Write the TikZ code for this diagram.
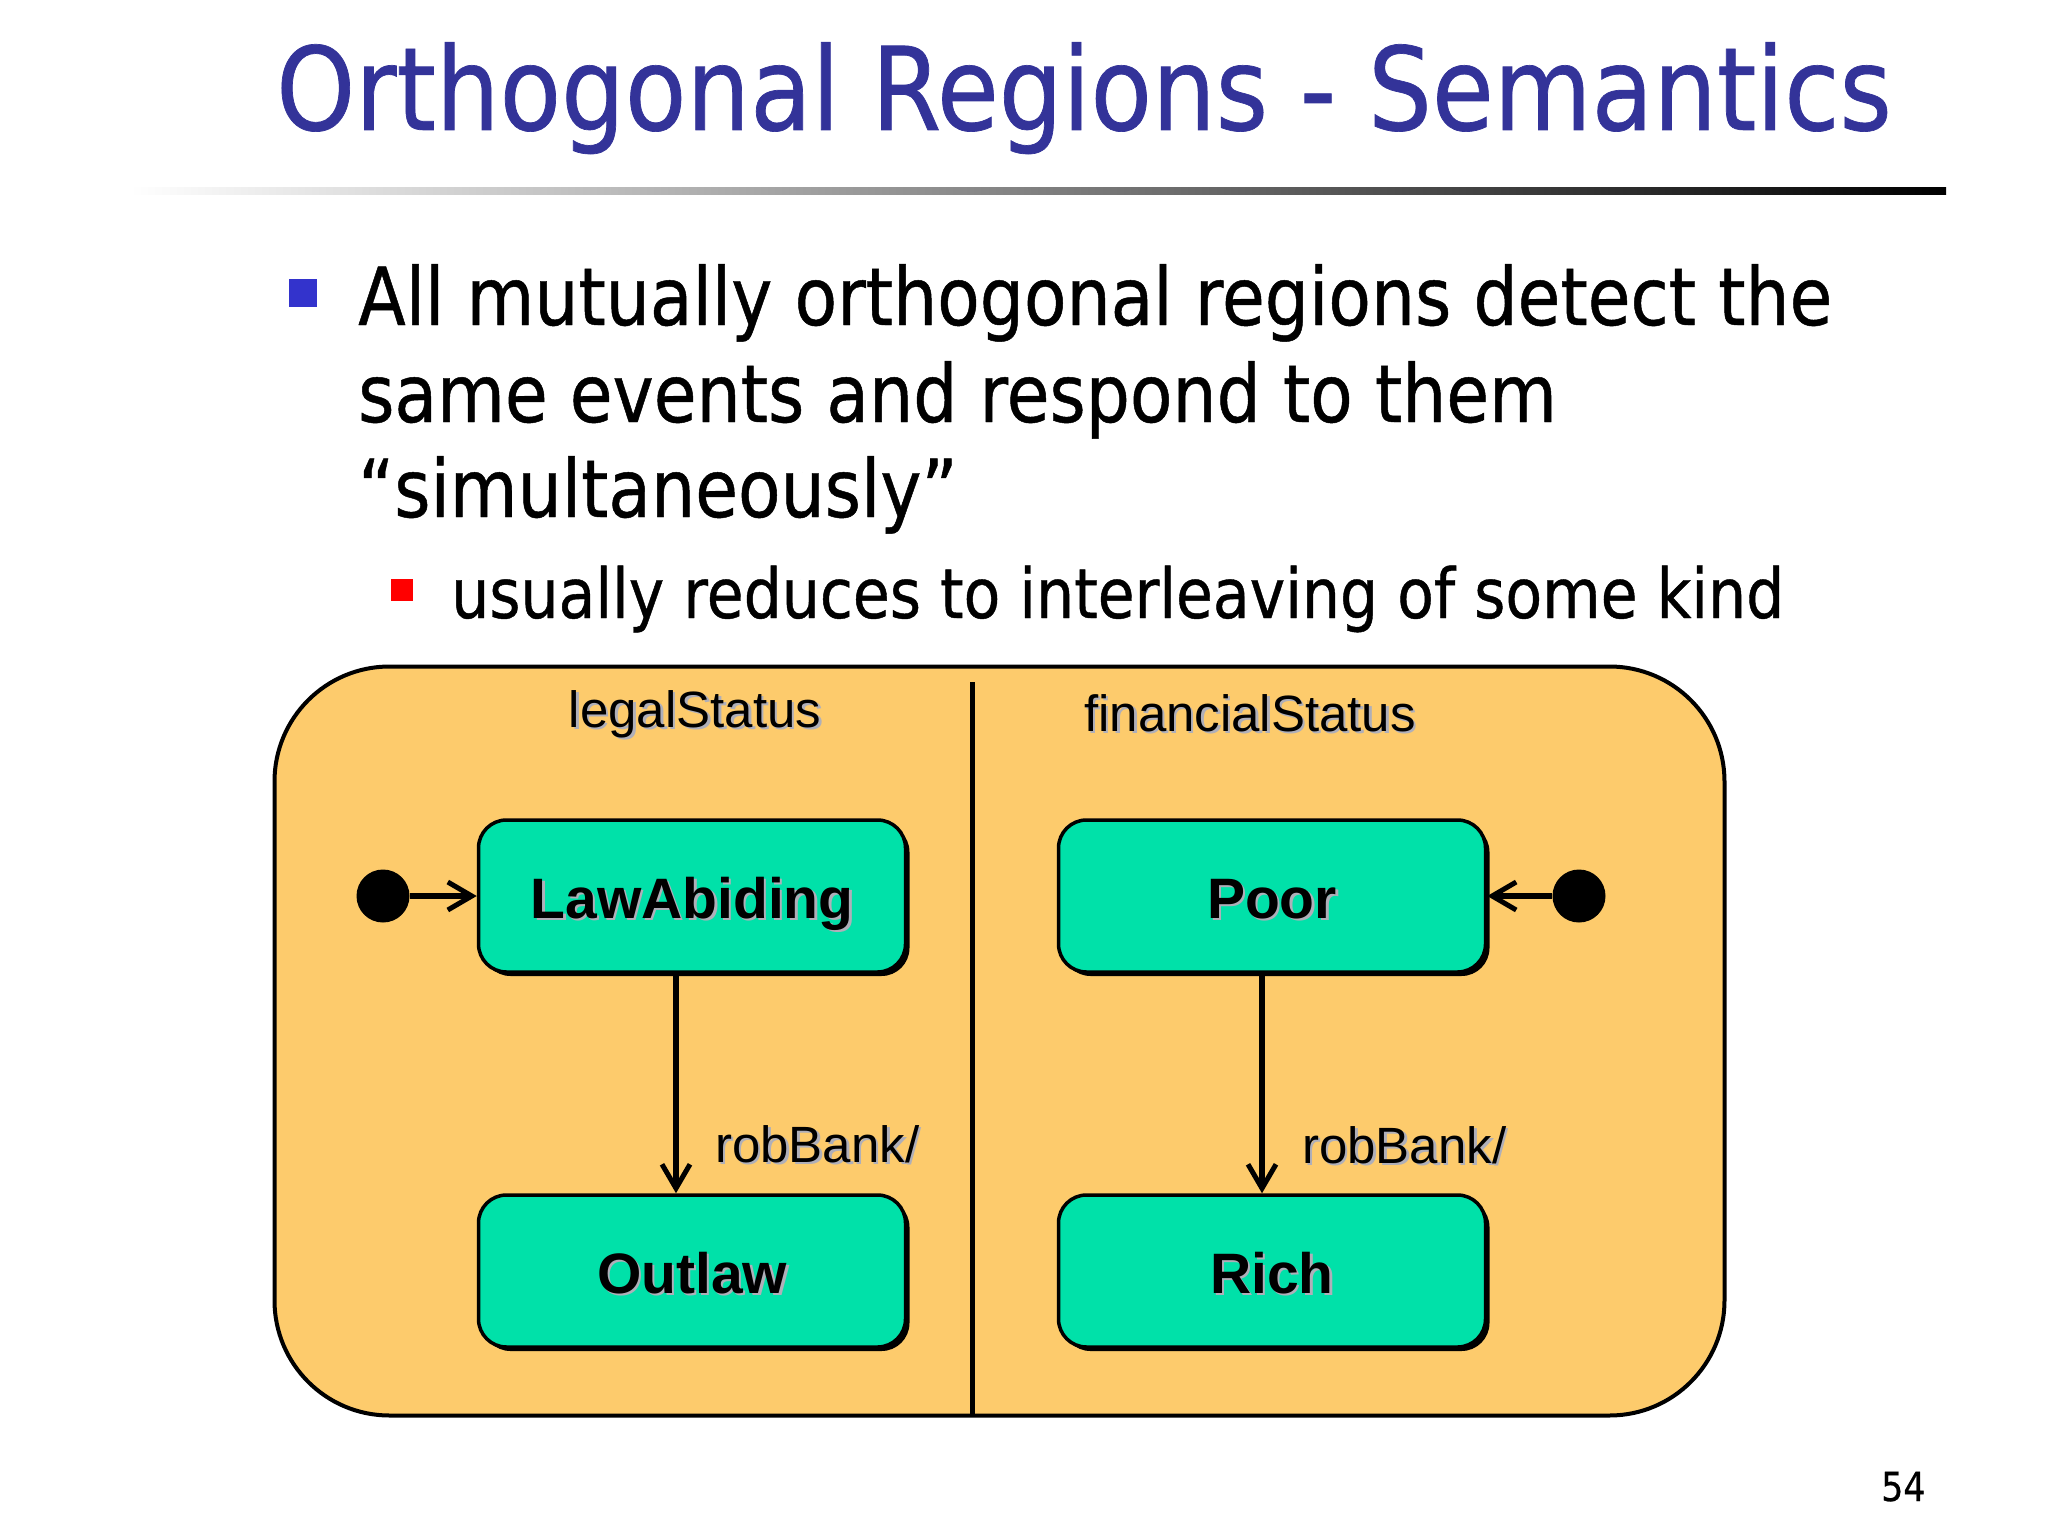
\documentclass[tikz,border=0pt]{standalone}
\usepackage{fontspec}
\setmainfont[FakeStretch=0.87,FakeBold=0.6]{DejaVu Sans}
\newfontfamily\arialf{Liberation Sans}
\usetikzlibrary{arrows.meta,shadows}
\definecolor{titleblue}{RGB}{51,51,153}
\definecolor{bulletblue}{RGB}{51,51,204}
\definecolor{bulletred}{RGB}{255,0,0}
\definecolor{regionorange}{RGB}{253,203,108}
\definecolor{stategreen}{RGB}{0,225,169}
\definecolor{txtshadow}{RGB}{175,175,185}
\newcommand\shadowed[1]{\makebox[0pt][l]{\hspace{2.5pt}\raisebox{-2.5pt}{\textcolor{txtshadow}{#1}}}#1}
\begin{document}
\begin{tikzpicture}[x=1pt,y=-1pt,
  txt/.style={inner sep=0pt, anchor=base west},
  statebox/.style={draw=black, line width=3.5pt, fill=stategreen, rounded corners=28pt,
    minimum width=427pt, minimum height=152pt, text height=44pt, text depth=0pt,
    drop shadow={shadow xshift=4pt, shadow yshift=-4pt, fill=black, opacity=1},
    font=\arialf\bfseries\fontsize{57}{60}\selectfont},
  initdot/.style={circle, fill=black, minimum size=53pt, inner sep=0pt},
  trans/.style={line width=6pt, -{Straight Barb[length=24pt,width=28pt,line width=5pt]}},
  lbl/.style={inner sep=0pt, font=\arialf\fontsize{51}{54}\selectfont}]
\useasboundingbox (0,0) rectangle (2048,1536);
\fill[white] (0,0) rectangle (2048,1536);
% title
\node[txt, text=titleblue, font=\fontsize{115.5}{120}\selectfont] (title) at (276,130) {Orthogonal Regions - Semantics};
\shade[left color=white, right color=black] (130,187) rectangle (1946,194);
% bullets
\node[fill=bulletblue, minimum size=28pt, inner sep=0pt] (b1) at (303,293) {};
\node[txt, font=\fontsize{80}{84}\selectfont] (l1) at (358,325) {All mutually orthogonal regions detect the};
\node[txt, font=\fontsize{80}{84}\selectfont] (l2) at (358,422) {same events and respond to them};
\node[txt, font=\fontsize{80}{84}\selectfont] (l3) at (358,517) {“simultaneously”};
\node[fill=bulletred, minimum size=22pt, inner sep=0pt] (b2) at (402,590) {};
\node[txt, font=\fontsize{69}{72}\selectfont] (l4) at (451,618) {usually reduces to interleaving of some kind};
% diagram
\node[draw=black, line width=4pt, fill=regionorange, rounded corners=115pt,
  minimum width=1450pt, minimum height=749pt, inner sep=0pt] (region) at (999.5,1041) {};
\draw[line width=5pt] (972,682) -- (972,1416);
\node[lbl, anchor=base] (ls) at (695,727) {\shadowed{legalStatus}};
\node[lbl, anchor=base] (fs) at (1250,731) {\shadowed{financialStatus}};
\node[statebox] (law) at (692,896) {\shadowed{LawAbiding}};
\node[statebox] (poor) at (1272,896) {\shadowed{Poor}};
\node[statebox] (outlaw) at (692,1271) {\shadowed{Outlaw}};
\node[statebox] (rich) at (1272,1271) {\shadowed{Rich}};
\node[initdot] (i1) at (383,896) {};
\node[initdot] (i2) at (1579,896) {};
\draw[trans] (i1) -- (law);
\draw[trans] (i2) -- (poor);
\draw[trans] ([xshift=-16pt]law.south) -- ([xshift=-16pt]outlaw.north);
\draw[trans] ([xshift=-10pt]poor.south) -- ([xshift=-10pt]rich.north);
\node[lbl, anchor=base west] (rb1) at (715,1162) {\shadowed{robBank/}};
\node[lbl, anchor=base west] (rb2) at (1302,1163) {\shadowed{robBank/}};
% page number
\node[txt, font=\fontsize{40}{44}\selectfont] (pg) at (1881,1501) {54};
\end{tikzpicture}
\end{document}
